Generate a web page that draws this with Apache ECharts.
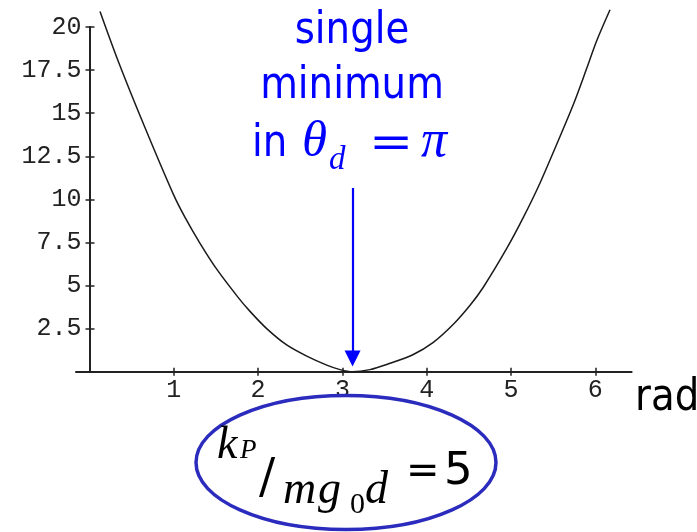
<!DOCTYPE html>
<html>
<head>
<meta charset="utf-8">
<script src="https://cdn.jsdelivr.net/npm/echarts@6/dist/echarts.min.js"></script>
<style>
  html, body { margin: 0; padding: 0; background: #fff; }
  #chart { width: 697px; height: 532px; }
</style>
</head>
<body>
<div id="chart"></div>
<script>
// Potential energy of the pendulum vs. angle (kP / m g0 d = 5)
const thetaRad = [0.125, 0.342, 0.638, 0.994, 1.133, 1.311, 1.509, 1.765, 1.904, 2.102, 2.339, 2.577, 2.814, 2.972, 3.12,
                  3.327, 3.526, 3.841, 4.078, 4.316, 4.514, 4.671, 4.949, 5.146, 5.344, 5.542, 5.739, 5.898, 6.016, 6.174];
const energy   = [20.9, 18.0, 14.4, 10.3, 8.95, 7.45, 5.95, 4.3, 3.5, 2.5, 1.55, 0.9, 0.38, 0.12, 0.0,
                  0.12, 0.42, 1.0, 1.7, 2.75, 3.85, 4.9, 7.15, 8.95, 10.95, 13.2, 15.5, 17.6, 19.2, 21.0];
const xTickValues = [1, 2, 3, 4, 5, 6];
const yTickStep = 2.5;
const yMax = 20;
const xMin = -0.16;
const xMax = 6.43;

// arrow pointing at the minimum
const arrowX = 3.12;
const arrowFromY = 10.66;
const arrowToY = 0.77;

const curve = thetaRad.map((t, i) => [t, energy[i]]);

const tickFont = 'Liberation Mono';
const sansFont = '"DejaVu Sans", sans-serif';
const serifFont = '"Liberation Serif", serif';
const blue = '#0000ff';

const gridLeft = 76;
const gridRight = 65.4;
const plotWidth = 697 - gridLeft - gridRight;
// the vertical axis sits at theta = 0, inside the plot frame
const yAxisShift = -(0 - xMin) / (xMax - xMin) * plotWidth;

// place text by its alphabetic baseline (canvas draws with a middle baseline)
function glyph(text, x, baseline, size, family, opts) {
  opts = opts || {};
  return {
    type: 'text',
    x: x,
    y: baseline - 0.34 * size,
    scaleX: opts.scaleX || 1,
    silent: true,
    z: 10,
    style: {
      text: text,
      font: (opts.italic ? 'italic ' : '') + size + 'px ' + family,
      fill: opts.color || '#000',
      align: opts.align || 'left',
      verticalAlign: 'middle'
    }
  };
}

const chart = echarts.init(document.getElementById('chart'), null, { renderer: 'canvas' });

const axisLineStyle = { color: '#222', width: 2 };
const tickLineStyle = { color: '#222', width: 1.5 };

chart.setOption({
  animation: false,
  backgroundColor: '#fff',
  grid: { left: gridLeft, right: gridRight, top: 27, bottom: 160.3, outerBoundsMode: 'none' },
  xAxis: [
    {
      type: 'value', min: xMin, max: xMax, position: 'bottom',
      axisLine: { show: true, onZero: false, lineStyle: axisLineStyle },
      axisTick: { show: true, inside: false, length: 4, customValues: xTickValues, lineStyle: tickLineStyle },
      axisLabel: { show: true, customValues: xTickValues, margin: 6, color: '#222', fontFamily: tickFont, fontSize: 25 },
      splitLine: { show: false }
    },
    {
      type: 'value', min: xMin, max: xMax, position: 'bottom',
      axisLine: { show: false, onZero: false },
      axisTick: { show: true, inside: true, length: 4, customValues: xTickValues, lineStyle: tickLineStyle },
      axisLabel: { show: false },
      splitLine: { show: false }
    }
  ],
  yAxis: [
    {
      type: 'value', min: 0, max: yMax, interval: yTickStep, position: 'left', offset: yAxisShift,
      axisLine: { show: true, onZero: false, lineStyle: axisLineStyle },
      axisTick: { show: true, inside: false, length: 4, lineStyle: tickLineStyle },
      axisLabel: {
        show: true, margin: 8, color: '#222', fontFamily: tickFont, fontSize: 25,
        formatter: v => (v === 0 ? '' : String(v))
      },
      splitLine: { show: false }
    },
    {
      type: 'value', min: 0, max: yMax, interval: yTickStep, position: 'left', offset: yAxisShift,
      axisLine: { show: false, onZero: false },
      axisTick: { show: true, inside: true, length: 5, lineStyle: tickLineStyle },
      axisLabel: { show: false },
      splitLine: { show: false }
    }
  ],
  series: [
    {
      type: 'line',
      data: curve,
      xAxisIndex: 0,
      yAxisIndex: 0,
      showSymbol: false,
      smooth: 0.3,
      clip: false,
      lineStyle: { color: '#1a1a1a', width: 1.5 },
      markLine: {
        silent: true,
        symbol: ['none', 'triangle'],
        symbolSize: 16,
        label: { show: false },
        lineStyle: { color: blue, width: 2.2, type: 'solid' },
        itemStyle: { color: blue },
        data: [[{ coord: [arrowX, arrowFromY] }, { coord: [arrowX, arrowToY] }]]
      }
    }
  ],
  graphic: [
    // blue annotation
    glyph('single', 352, 47, 44, sansFont, { color: blue, align: 'center', scaleX: 0.88 }),
    glyph('minimum', 352, 102, 44, sansFont, { color: blue, align: 'center', scaleX: 0.88 }),
    glyph('in', 252, 160, 44, sansFont, { color: blue, scaleX: 0.88 }),
    glyph('θ', 302, 160, 51, serifFont, { color: blue, italic: true }),
    glyph('d', 329, 172, 33, serifFont, { color: blue, italic: true }),
    glyph('=', 369, 161, 44, '"DejaVu Serif", serif', { color: blue, scaleX: 1.2 }),
    glyph('π', 421, 160, 52, serifFont, { color: blue, italic: true }),
    // axis unit
    glyph('rad', 635, 414, 44, sansFont, { scaleX: 0.88 }),
    // gain ratio in an ellipse
    {
      type: 'ellipse',
      shape: { cx: 346, cy: 462.5, rx: 150, ry: 67 },
      style: { fill: 'none', stroke: '#2b2bbd', lineWidth: 3.5 },
      silent: true,
      z: 9
    },
    glyph('k', 217, 462, 46, serifFont, { italic: true }),
    glyph('P', 240, 460, 27, serifFont, { italic: true }),
    glyph('/', 259, 497, 48, '"DejaVu Serif", serif'),
    glyph('m', 283, 507, 46, serifFont, { italic: true }),
    glyph('g', 318, 507, 46, serifFont, { italic: true }),
    glyph('0', 350, 515, 30, serifFont),
    glyph('d', 365, 507, 46, serifFont, { italic: true }),
    glyph('=', 406, 486, 40, sansFont),
    glyph('5', 444, 488, 45, sansFont)
  ]
});
</script>
</body>
</html>
